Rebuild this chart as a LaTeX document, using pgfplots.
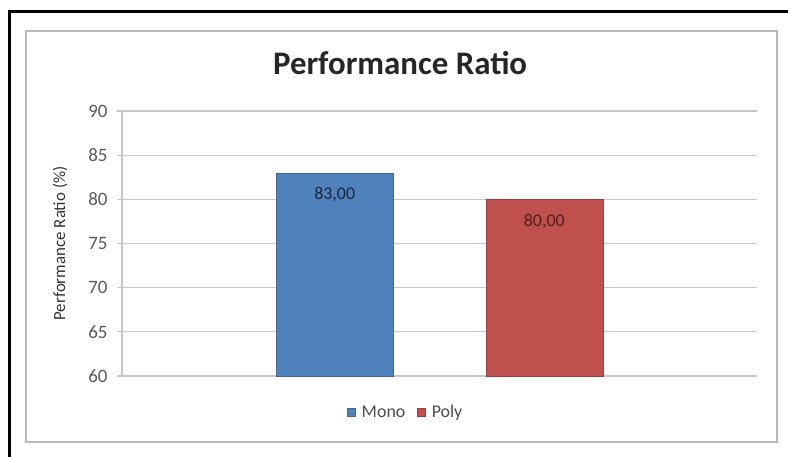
\documentclass[border=0pt]{standalone}
\usepackage{pgfplots}
\pgfplotsset{compat=1.18}
\usepackage{fontspec}
\setmainfont{Carlito}
\definecolor{monoblue}{HTML}{4F81BD}
\definecolor{polyred}{HTML}{C0504D}
\definecolor{gridgray}{HTML}{C8C8C8}

\begin{document}
\begin{tikzpicture}
\begin{axis}[
    scale only axis,
    width=635bp, height=265bp,
    xmin=-1.015, xmax=2.015,
    ymin=60, ymax=90,
    ytick={60,65,...,90},
    xtick=\empty,
    ymajorgrids,
    grid style={gridgray, line width=1.2bp},
    axis lines*=left,
    axis line style={gridgray, line width=1.2bp},
    tick align=outside,
    major tick length=5bp,
    ytick style={gridgray, line width=1.2bp},
    tick label style={font=\fontsize{19}{21}\selectfont, text=black!65},
    yticklabel style={xshift=-6bp},
    /pgf/number format/assume math mode=true,
    ybar, bar width=117bp, bar shift=0pt,
    title={Performance Ratio},
    title style={at={(axis description cs:0.438,1.16)}, anchor=center,
        font=\fontsize{33}{36}\selectfont\bfseries, text=black!85},
    ylabel={Performance Ratio (\%)},
    ylabel style={at={(axis description cs:-0.0976,0.5)}, anchor=center,
        font=\fontsize{17}{20}\selectfont, text=black!80},
    nodes near coords,
    nodes near coords style={anchor=center, yshift=-22bp,
        font=\fontsize{18}{20}\selectfont,
        /pgf/number format/fixed, /pgf/number format/fixed zerofill,
        /pgf/number format/precision=2, /pgf/number format/use comma},
    legend columns=2,
    legend style={draw=none, fill=none, at={(axis description cs:0.447,-0.136)},
        anchor=center, font=\fontsize{18}{20}\selectfont, text=black!70,
        /tikz/every even column/.append style={column sep=10bp}},
    legend image code/.code={\fill[#1] (0bp,-4bp) rectangle (8bp,4bp); \path (12bp,0bp);},
]
\addplot[fill=monoblue, draw=monoblue!80!black,
    every node near coord/.append style={text=monoblue!30!black}]
    coordinates {(0,83)};
\addlegendentry{Mono}
\addplot[fill=polyred, draw=polyred!80!black,
    every node near coord/.append style={text=polyred!40!black}]
    coordinates {(1,80)};
\addlegendentry{Poly}
\end{axis}
\draw[gray!55, line width=1.5bp] (-96bp,-66bp) rectangle (655bp,345bp);
\draw[black, line width=3bp] (-112bp,-81bp) -- (-112bp,364bp) -- (666bp,364bp);
\pgfresetboundingbox
\path[use as bounding box] (-122bp,-81bp) rectangle (666bp,376bp);
\end{tikzpicture}
\end{document}
